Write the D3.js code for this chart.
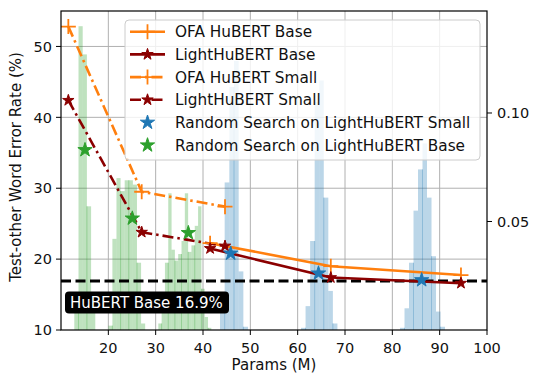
<!DOCTYPE html>
<html><head><meta charset="utf-8">
<script src="https://cdn.jsdelivr.net/npm/d3@7"></script>
<style>body{margin:0;background:#fff}svg{display:block}text{font-family:"DejaVu Sans",sans-serif}</style>
</head><body>
<svg id="c" width="534" height="374"></svg>
<script>
// ---------- data ----------
const xTicks = [20, 30, 40, 50, 60, 70, 80, 90, 100];
const yTicks = [10, 20, 30, 40, 50];
const y2Ticks = [0.05, 0.10];

const ofaBaseParams = [41.5, 67.0, 94.5];
const ofaBaseWER = [22.25, 19.0, 17.75];
const lightBaseParams = [41.5, 67.0, 94.5];
const lightBaseWER = [21.5, 17.4, 16.6];
const ofaSmallParams = [11.55, 27.05, 44.65];
const ofaSmallWER = [52.8, 29.5, 27.4];
const lightSmallParams = [11.55, 27.05, 44.65];
const lightSmallWER = [42.4, 23.8, 21.85];
const rsSmallParams = [45.85, 64.4, 86.2];
const rsSmallWER = [20.8, 18.0, 17.05];
const rsBaseParams = [15.07, 25.07, 36.9];
const rsBaseWER = [35.4, 25.75, 23.7];
const hubertBaseWER = 16.9;

// histogram clusters (density on right axis): start, bin width, densities
const greenStarts = [12.81, 19.99, 30.56];
const greenWidths = [0.887, 0.866, 0.70];
const greenDens1 = [0.009, 0.140, 0.127, 0.057, 0.010];
const greenDens2 = [0.002, 0.042, 0.070, 0.064, 0.069, 0.069, 0.067, 0.031, 0.003];
const greenDens3 = [0.003, 0.012, 0.031, 0.063, 0.037, 0.032, 0.035, 0.041, 0.063, 0.036, 0.039, 0.048, 0.057, 0.019, 0.006, 0.001];
const blueStarts = [43.59, 60.71, 81.62];
const blueWidths = [0.987, 0.961, 0.951];
const blueDens1 = [0.009, 0.068, 0.112, 0.124, 0.027, 0.0015];
const blueDens2 = [0.001, 0.011, 0.041, 0.105, 0.115, 0.061, 0.018, 0.003];
const blueDens3 = [0.001, 0.010, 0.031, 0.055, 0.074, 0.086, 0.061, 0.034, 0.0085, 0.0015];

const legendLabels = ["OFA HuBERT Base", "LightHuBERT Base", "OFA HuBERT Small", "LightHuBERT Small",
  "Random Search on LightHuBERT Small", "Random Search on LightHuBERT Base"];

// ---------- chart ----------
const ORANGE = "#ff7f0e", DARKRED = "#8b0000", BLUE = "#1f77b4", GREEN = "#2ca02c";
const L = 61, R = 487, T = 11, B = 330;
const svg = d3.select("#c");
const x = d3.scaleLinear([10, 100], [L, R]);
const y = d3.scaleLinear([10, 55], [B, T]);
const y2 = d3.scaleLinear([0, 0.147], [B, T]);

svg.append("defs").append("clipPath").attr("id", "clip")
  .append("rect").attr("x", L).attr("y", T).attr("width", R - L).attr("height", B - T);
const g = svg.append("g").attr("clip-path", "url(#clip)");

// grid
g.selectAll(".gx").data(xTicks.filter(d => d < 100)).join("line")
  .attr("x1", d => x(d)).attr("x2", d => x(d)).attr("y1", T).attr("y2", B)
  .attr("stroke", "#b0b0b0").attr("stroke-width", 1);
g.selectAll(".gy").data(yTicks.filter(d => d > 10)).join("line")
  .attr("y1", d => y(d)).attr("y2", d => y(d)).attr("x1", L).attr("x2", R)
  .attr("stroke", "#b0b0b0").attr("stroke-width", 1);

// histograms
function drawHist(start, w, dens, color) {
  const bins = dens.map((d, i) => ({x0: start + i * w, x1: start + (i + 1) * w, d}));
  g.append("g").selectAll("rect").data(bins).join("rect")
    .attr("x", b => x(b.x0)).attr("width", b => x(b.x1) - x(b.x0))
    .attr("y", b => y2(b.d)).attr("height", b => B - y2(b.d))
    .attr("fill", color).attr("fill-opacity", 0.3);
  const seams = bins.slice(1).map((b, i) => ({x: b.x0, d: Math.min(b.d, bins[i].d)})).filter((s, i) => i % 2 === 0);
  g.append("g").selectAll("line").data(seams).join("line")
    .attr("x1", s => x(s.x)).attr("x2", s => x(s.x)).attr("y1", s => y2(s.d)).attr("y2", B)
    .attr("stroke", color).attr("stroke-opacity", 0.3).attr("stroke-width", 1);
}
drawHist(greenStarts[0], greenWidths[0], greenDens1, GREEN);
drawHist(greenStarts[1], greenWidths[1], greenDens2, GREEN);
drawHist(greenStarts[2], greenWidths[2], greenDens3, GREEN);
drawHist(blueStarts[0], blueWidths[0], blueDens1, BLUE);
drawHist(blueStarts[1], blueWidths[1], blueDens2, BLUE);
drawHist(blueStarts[2], blueWidths[2], blueDens3, BLUE);

// baseline
g.append("line").attr("x1", L).attr("x2", R).attr("y1", y(hubertBaseWER)).attr("y2", y(hubertBaseWER))
  .attr("stroke", "#000").attr("stroke-width", 3).attr("stroke-dasharray", "10,4.5");

const DASHDOT = "11,4,2.5,4";
const line = d3.line().x(d => x(d[0])).y(d => y(d[1]));
function series(px, py, color, dash) {
  g.append("path").datum(px.map((v, i) => [v, py[i]])).attr("d", line)
    .attr("fill", "none").attr("stroke", color).attr("stroke-width", 2.6)
    .attr("stroke-dasharray", dash || null).attr("stroke-linejoin", "round");
}
const starPath = r => d3.symbol(d3.symbolStar, r * r / 0.8908130915292852)();
function plusMarks(sel, color) {
  sel.append("path").attr("d", "M-7.5,0H7.5M0,-7.5V7.5").attr("stroke", color).attr("stroke-width", 1.8).attr("fill", "none");
}
function starMarks(sel, color, r) {
  sel.append("path").attr("d", starPath(r)).attr("fill", color).attr("stroke", color).attr("stroke-width", 1).attr("stroke-linejoin", "miter");
}
function markers(px, py, fn, color, r) {
  const s = g.append("g").selectAll("g").data(px.map((v, i) => [v, py[i]])).join("g")
    .attr("transform", d => `translate(${x(d[0])},${y(d[1])})`);
  fn(s, color, r);
}

series(ofaBaseParams, ofaBaseWER, ORANGE);
series(lightBaseParams, lightBaseWER, DARKRED);
series(ofaSmallParams, ofaSmallWER, ORANGE, DASHDOT);
series(lightSmallParams, lightSmallWER, DARKRED, DASHDOT);
markers(ofaBaseParams, ofaBaseWER, plusMarks, ORANGE);
markers(ofaSmallParams, ofaSmallWER, plusMarks, ORANGE);
markers(lightBaseParams, lightBaseWER, starMarks, DARKRED, 6);
markers(lightSmallParams, lightSmallWER, starMarks, DARKRED, 6);
markers(rsSmallParams, rsSmallWER, starMarks, BLUE, 7.5);
markers(rsBaseParams, rsBaseWER, starMarks, GREEN, 7.5);

// label box
const lab = svg.append("g");
lab.append("rect").attr("x", 65).attr("y", 291.5).attr("width", 164).attr("height", 22).attr("rx", 4).attr("fill", "#000");
lab.append("text").attr("x", 70).attr("y", 307.5).attr("fill", "#fff").attr("font-size", 15)
  .text(`HuBERT Base ${hubertBaseWER}%`);

// legend
const lg = svg.append("g");
lg.append("rect").attr("x", 125).attr("y", 20).attr("width", 355).attr("height", 140).attr("rx", 4)
  .attr("fill", "#fff").attr("fill-opacity", 0.8).attr("stroke", "#cccccc").attr("stroke-width", 1);
const handles = [
  {c: ORANGE, dash: null, m: "plus"}, {c: DARKRED, dash: null, m: "star"},
  {c: ORANGE, dash: DASHDOT, m: "plus"}, {c: DARKRED, dash: DASHDOT, m: "star"},
  {c: BLUE, dash: "none", m: "bigstar"}, {c: GREEN, dash: "none", m: "bigstar"}];
legendLabels.forEach((t, i) => {
  const cy = 31.7 + i * 22.7;
  const h = handles[i];
  const row = lg.append("g");
  if (h.dash !== "none") row.append("line").attr("x1", 130).attr("x2", 165).attr("y1", cy).attr("y2", cy)
    .attr("stroke", h.c).attr("stroke-width", 2.6).attr("stroke-dasharray", h.dash);
  const mg = row.append("g").attr("transform", `translate(147.5,${cy})`);
  if (h.m === "plus") plusMarks(mg, h.c);
  else starMarks(mg, h.c, h.m === "star" ? 6 : 7.5);
  row.append("text").attr("x", 175).attr("y", cy + 5.5).attr("font-size", 15.3).attr("fill", "#111").text(t);
});

// axes frame
svg.append("rect").attr("x", L).attr("y", T).attr("width", R - L).attr("height", B - T)
  .attr("fill", "none").attr("stroke", "#000").attr("stroke-width", 1.2);

// ticks
const ax = svg.append("g");
ax.selectAll(".tx").data(xTicks).join("line").attr("x1", d => x(d)).attr("x2", d => x(d))
  .attr("y1", B).attr("y2", B + 5).attr("stroke", "#000").attr("stroke-width", 1);
ax.selectAll(".txl").data(xTicks).join("text").attr("x", d => x(d)).attr("y", 353)
  .attr("text-anchor", "middle").attr("font-size", 14.5).attr("fill", "#111").text(d => d);
ax.selectAll(".ty").data(yTicks).join("line").attr("x1", L - 5).attr("x2", L)
  .attr("y1", d => y(d)).attr("y2", d => y(d)).attr("stroke", "#000").attr("stroke-width", 1);
ax.selectAll(".tyl").data(yTicks).join("text").attr("x", 52).attr("y", d => y(d) + 5.2)
  .attr("text-anchor", "end").attr("font-size", 14.5).attr("fill", "#111").text(d => d);
ax.selectAll(".ty2").data(y2Ticks).join("line").attr("x1", R).attr("x2", R + 5)
  .attr("y1", d => y2(d)).attr("y2", d => y2(d)).attr("stroke", "#000").attr("stroke-width", 1);
ax.selectAll(".ty2l").data(y2Ticks).join("text").attr("x", 497).attr("y", d => y2(d) + 5.2)
  .attr("font-size", 14.5).attr("fill", "#111").text(d => d3.format(".2f")(d));

svg.append("text").attr("x", (L + R) / 2).attr("y", 370).attr("text-anchor", "middle")
  .attr("font-size", 15).attr("fill", "#111").text("Params (M)");
svg.append("text").attr("transform", "translate(21,167) rotate(-90)").attr("text-anchor", "middle")
  .attr("font-size", 15).attr("fill", "#111").text("Test-other Word Error Rate (%)");
</script>
</body></html>
